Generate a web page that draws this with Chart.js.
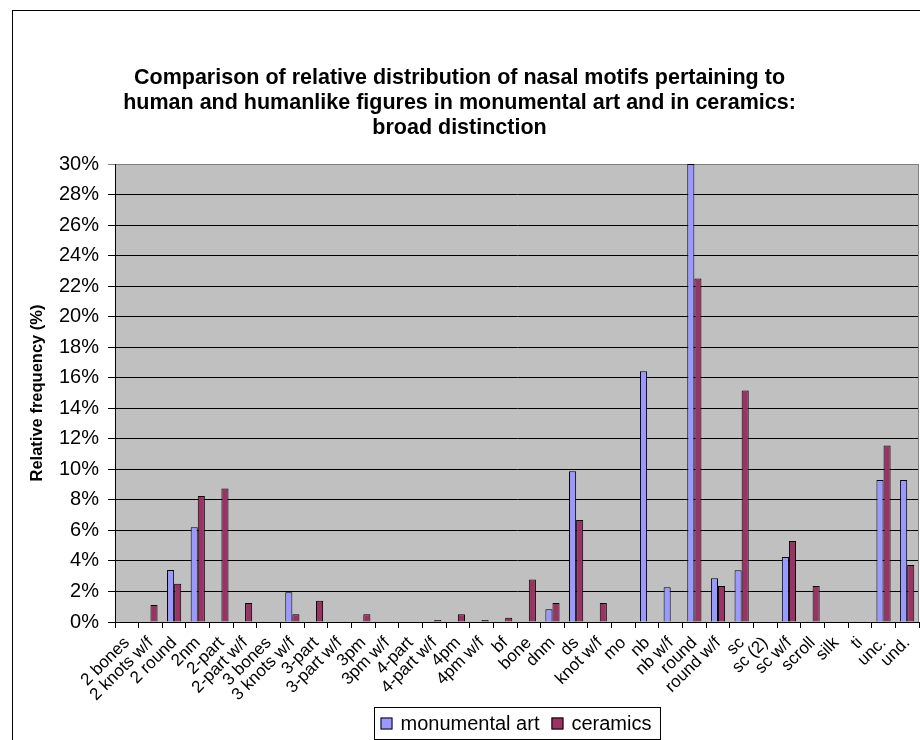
<!DOCTYPE html>
<html><head><meta charset="utf-8">
<script src="https://cdn.jsdelivr.net/npm/chart.js@4/dist/chart.umd.min.js"></script>
<style>html,body{margin:0;padding:0;background:#fff;}canvas{display:block;}</style>
</head><body>
<canvas id="c" width="920" height="740"></canvas>
<script>
const categories = ['2 bones','2 knots w/f','2 round','2nm','2-part','2-part w/f','3 bones','3 knots w/f','3-part','3-part w/f','3pm','3pm w/f','4-part','4-part w/f','4pm','4pm w/f','bf','bone','dnm','ds','knot w/f','mo','nb','nb w/f','round','round w/f','sc','sc (2)','sc w/f','scroll','silk','ti','unc.','und.'];
const monumentalArt = [0,0,3.4,6.2,0,0,0,1.95,0,0,0,0,0,0,0,0,0,0,0.83,9.87,0,0,16.43,2.28,30.0,2.87,3.39,0,4.25,0,0,0,9.3,9.3];
const ceramics = [0,1.12,2.5,8.25,8.75,1.25,0,0.5,1.4,0,0.5,0,0,0.13,0.5,0.13,0.28,2.78,1.25,6.68,1.25,0,0,0,22.5,2.36,15.17,0,5.3,2.36,0,0,11.56,3.74];
const seriesNames = ['monumental art','ceramics'];
const seriesColors = ['#9999FF','#993366'];
const titleLines = ['Comparison of relative distribution of nasal motifs pertaining to','human and humanlike figures in monumental art and in ceramics:','broad distinction'];
const yAxisTitle = 'Relative frequency (%)';
const yMin = 0, yMax = 30, yStep = 2;

const FONT = '"Liberation Sans", Arial, sans-serif';

const decor = {
  id: 'decor',
  beforeDraw(chart) {
    const {ctx, chartArea: a} = chart;
    ctx.save();
    ctx.fillStyle = '#C0C0C0';
    ctx.fillRect(a.left, a.top, a.right - a.left, a.bottom - a.top);
    ctx.restore();
  },
  afterDraw(chart) {
    const {ctx, chartArea: a} = chart;
    ctx.save();
    ctx.strokeStyle = '#808080';
    ctx.lineWidth = 1;
    ctx.beginPath();
    ctx.moveTo(a.right - 0.5, a.top);
    ctx.lineTo(a.right - 0.5, a.bottom);
    ctx.stroke();
    ctx.strokeStyle = '#000';
    ctx.strokeRect(12.5, 10.5, 1000, 1000);
    ctx.font = '20px ' + FONT;
    const ds = chart.data.datasets;
    const widths = ds.map(d => ctx.measureText(d.label).width);
    const sq = 12, padL = 6, gapT = 8, gapI = 12, padR = 9;
    let total = padL + padR;
    widths.forEach((w, i) => { total += sq + gapT + w + (i < widths.length - 1 ? gapI : 0); });
    const cx = (a.left + a.right) / 2;
    const bx = Math.round(cx - total / 2) + 0.5;
    const by = 707.5, bh = 32;
    ctx.fillStyle = '#fff';
    ctx.fillRect(bx, by, total, bh);
    ctx.strokeStyle = '#000';
    ctx.strokeRect(bx, by, total, bh);
    let x = bx + padL;
    const my = by + bh / 2;
    ds.forEach((d, i) => {
      ctx.fillStyle = d.backgroundColor;
      ctx.fillRect(x, my - sq / 2, sq, sq);
      ctx.strokeStyle = '#000';
      ctx.strokeRect(x + 0.5, my - sq / 2 + 0.5, sq - 1, sq - 1);
      x += sq + gapT;
      ctx.fillStyle = '#000';
      ctx.textBaseline = 'middle';
      ctx.textAlign = 'left';
      ctx.fillText(d.label, x, my + 1);
      x += widths[i] + gapI;
    });
    ctx.restore();
  }
};

new Chart(document.getElementById('c'), {
  type: 'bar',
  data: {
    labels: categories,
    datasets: [
      {label: seriesNames[0], data: monumentalArt, backgroundColor: seriesColors[0], borderColor: '#000', borderWidth: 1, categoryPercentage: 0.6, barPercentage: 1.0},
      {label: seriesNames[1], data: ceramics, backgroundColor: seriesColors[1], borderColor: '#000', borderWidth: 1, categoryPercentage: 0.6, barPercentage: 1.0}
    ]
  },
  options: {
    responsive: false,
    animation: false,
    devicePixelRatio: 1,
    layout: {padding: {left: 0, right: 1, top: 0, bottom: 0}},
    plugins: {
      legend: {display: false},
      tooltip: {enabled: false},
      title: {
        display: true,
        text: titleLines,
        color: '#000',
        font: {family: FONT, size: 21.5, weight: 'bold', lineHeight: 25/21.5},
        padding: {top: 65.5, bottom: 23.5}
      }
    },
    scales: {
      x: {
        offset: true,
        grid: {display: true, drawOnChartArea: false, drawTicks: true, tickLength: 6, color: '#000', offset: true},
        border: {display: true, color: '#000', width: 1},
        ticks: {minRotation: 45, maxRotation: 45, autoSkip: false, color: '#000', padding: 5, font: {family: FONT, size: 17}},
        afterFit(s) { s.height = 118; s.paddingLeft = 0; s.paddingRight = 0; }
      },
      y: {
        min: yMin, max: yMax,
        grid: {color: c => (c.tick && c.tick.value === yMax ? '#808080' : '#000'), lineWidth: 1, tickLength: 7},
        border: {display: true, color: '#000', width: 1},
        ticks: {stepSize: yStep, color: '#000', padding: 9, font: {family: FONT, size: 20}, callback: v => v + '%'},
        title: {display: true, text: yAxisTitle, color: '#000', font: {family: FONT, size: 16.5, weight: 'bold'}, padding: {top: 28, bottom: 0}},
        afterFit(s) { s.width = 115; }
      }
    }
  },
  plugins: [decor]
});
</script>
</body></html>
